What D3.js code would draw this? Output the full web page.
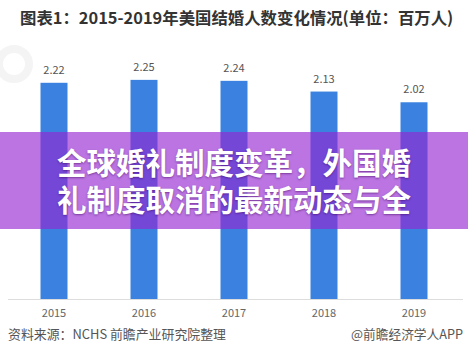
<!DOCTYPE html>
<html>
<head>
<meta charset="utf-8">
<script src="https://cdn.jsdelivr.net/npm/d3@7"></script>
<style>
  body { margin: 0; background: #fff; }
  svg { display: block; font-family: "Noto Sans CJK SC", "Noto Sans", sans-serif; }
</style>
</head>
<body>
<div id="chart"></div>
<script>
"use strict";

// chart data
const years  = ["2015", "2016", "2017", "2018", "2019"];
const values = [2.22, 2.25, 2.24, 2.13, 2.02];

const titleText   = "图表1：2015-2019年美国结婚人数变化情况(单位：百万人)";
const overlayText = ["全球婚礼制度变革，外国婚", "礼制度取消的最新动态与全"];
const sourceText  = "资料来源：NCHS 前瞻产业研究院整理";
const creditText  = "@前瞻经济学人APP";

const width = 468, height = 362;

const svg = d3.select("#chart").append("svg")
  .attr("width", width)
  .attr("height", height);

/* title */
svg.append("text")
  .attr("x", 20)
  .attr("y", 24)
  .attr("font-size", 16.4)
  .attr("font-weight", "bold")
  .attr("fill", "#333")
  .text(titleText);

/* faint watermark logo, top left */
svg.append("circle")
  .attr("cx", 14).attr("cy", 64).attr("r", 15)
  .attr("fill", "none")
  .attr("stroke", "#f4f4f4")
  .attr("stroke-width", 8);

/* scales */
const xScale = d3.scaleBand()
  .domain(years)
  .range([9, 459])
  .paddingInner(0.7)
  .paddingOuter(0.35);

const yScale = d3.scaleLinear()
  .domain([0, 2.3])
  .range([299, 75]);

/* bars */
svg.selectAll(".bar")
  .data(values)
  .enter().append("rect")
  .attr("class", "bar")
  .attr("x", function(d, i) { return xScale(years[i]); })
  .attr("y", function(d) { return yScale(d); })
  .attr("width", xScale.bandwidth())
  .attr("height", function(d) { return yScale(0) - yScale(d); })
  .attr("fill", "#3b82e0");

/* value labels */
svg.selectAll(".valueText")
  .data(values)
  .enter().append("text")
  .attr("class", "valueText")
  .attr("x", function(d, i) { return xScale(years[i]) + xScale.bandwidth() / 2; })
  .attr("y", function(d) { return yScale(d) - 9; })
  .attr("text-anchor", "middle")
  .attr("font-size", 11)
  .attr("fill", "#555")
  .text(function(d) { return d.toFixed(2); });

/* x axis */
const xAxis = svg.append("g")
  .attr("transform", "translate(0," + yScale(0) + ")")
  .call(d3.axisBottom(xScale).tickSize(0).tickPadding(10));
xAxis.select(".domain").attr("stroke", "#ddd").attr("d", "M8,0.5H463");
xAxis.selectAll("text")
  .attr("font-size", 11)
  .attr("font-family", "'Noto Sans CJK SC', sans-serif")
  .attr("fill", "#666");

/* source line */
svg.append("text")
  .attr("x", 8)
  .attr("y", 339)
  .attr("font-size", 12.9)
  .attr("fill", "#555")
  .text(sourceText);

svg.append("text")
  .attr("x", 463)
  .attr("y", 339)
  .attr("text-anchor", "end")
  .attr("font-size", 12.7)
  .attr("fill", "#555")
  .text(creditText);

/* purple headline overlay */
svg.append("rect")
  .attr("x", 0)
  .attr("y", 132)
  .attr("width", width)
  .attr("height", 97)
  .attr("fill", "rgb(148,37,210)")
  .attr("fill-opacity", 0.64);

svg.selectAll(".overlayText")
  .data(overlayText)
  .enter().append("text")
  .attr("class", "overlayText")
  .attr("x", 234)
  .attr("y", function(d, i) { return 174 + i * 37; })
  .attr("text-anchor", "middle")
  .attr("font-size", 29.5)
  .attr("font-weight", "bold")
  .attr("fill", "#fff")
  .style("text-shadow", "0 1px 2px rgba(60,0,90,0.5)")
  .text(function(d) { return d; });
</script>
</body>
</html>
